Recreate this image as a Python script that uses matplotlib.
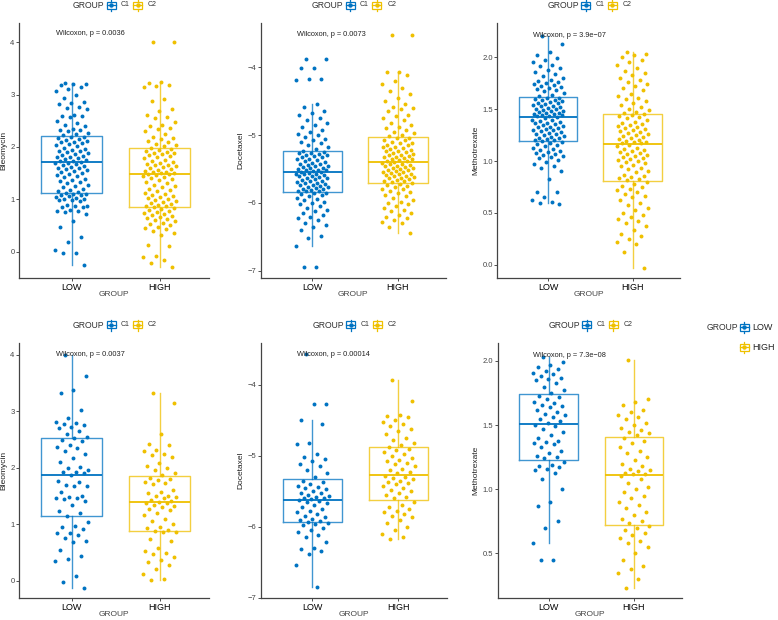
import numpy as np
import matplotlib
matplotlib.use("Agg")
import matplotlib.pyplot as plt
from matplotlib.lines import Line2D
from matplotlib.patches import Rectangle

plt.rcParams['font.family'] = ['Liberation Sans', 'DejaVu Sans']

W, H = 778, 620

groups = ["LOW", "HIGH"]
drugs = ["Bleomycin", "Docetaxel", "Methotrexate", "Bleomycin", "Docetaxel", "Methotrexate"]
pvals = ["0.0036", "0.0073", "3.9e\u221207", "0.0037", "0.00014", "7.3e\u221208"]

# box statistics: (q1, median, q3, lower whisker, upper whisker)
low_box = [
    (1.12, 1.71, 2.21, -0.25, 3.22),
    (-5.84, -5.55, -5.24, -6.63, -4.54),
    (1.19, 1.42, 1.62, 0.60, 2.20),
    (1.14, 1.87, 2.52, -0.13, 4.00),
    (-5.94, -5.62, -5.33, -6.85, -4.50),
    (1.23, 1.51, 1.74, 0.58, 2.03),
]
high_box = [
    (0.85, 1.48, 1.98, -0.29, 3.25),
    (-5.70, -5.39, -5.03, -6.44, -4.07),
    (0.81, 1.16, 1.45, -0.03, 2.05),
    (0.88, 1.39, 1.86, 0.02, 3.32),
    (-5.63, -5.27, -4.87, -6.18, -3.93),
    (0.72, 1.11, 1.41, 0.23, 2.01),
]

# individual samples (estimated from the jittered points)
p1_low = [3.22, 3.21, 3.20, 3.19, 3.14, 3.10, 3.07, 3.00, 2.94, 2.86, 2.85, 2.82, 2.77, 2.74, 2.72,
          2.62, 2.60, 2.60, 2.58, 2.49, 2.46, 2.42, 2.40, 2.35, 2.33, 2.32, 2.30, 2.27, 2.25, 2.23,
          2.20, 2.19, 2.18, 2.16, 2.14, 2.12, 2.10, 2.09, 2.07, 2.05, 2.03, 2.01, 1.99, 1.97, 1.95,
          1.93, 1.92, 1.90, 1.88, 1.86, 1.85, 1.83, 1.81, 1.80, 1.78, 1.77, 1.75, 1.74, 1.73, 1.72,
          1.70, 1.69, 1.67, 1.66, 1.64, 1.62, 1.60, 1.59, 1.57, 1.56, 1.55, 1.53, 1.50, 1.48, 1.47,
          1.45, 1.42, 1.39, 1.37, 1.35, 1.33, 1.31, 1.28, 1.26, 1.23, 1.20, 1.17, 1.15, 1.14, 1.13,
          1.11, 1.10, 1.09, 1.08, 1.07, 1.05, 1.03, 1.01, 1.00, 0.99, 0.98, 0.96, 0.90, 0.88, 0.87,
          0.86, 0.85, 0.80, 0.78, 0.77, 0.76, 0.72, 0.58, 0.47, 0.28, 0.18, 0.03, -0.02, -0.03, -0.25]
p1_high = [4.00, 4.00, 3.25, 3.22, 3.19, 3.17, 3.14, 2.92, 2.88, 2.72, 2.68, 2.62, 2.58, 2.55, 2.48,
           2.42, 2.40, 2.37, 2.35, 2.30, 2.25, 2.20, 2.18, 2.15, 2.12, 2.10, 2.06, 2.03, 2.01, 1.99,
           1.97, 1.95, 1.93, 1.91, 1.89, 1.88, 1.86, 1.84, 1.82, 1.80, 1.78, 1.76, 1.74, 1.72, 1.70,
           1.68, 1.66, 1.65, 1.63, 1.61, 1.60, 1.58, 1.56, 1.55, 1.53, 1.52, 1.51, 1.50, 1.49, 1.48,
           1.47, 1.45, 1.43, 1.41, 1.38, 1.36, 1.33, 1.31, 1.28, 1.26, 1.23, 1.20, 1.18, 1.15, 1.13,
           1.11, 1.09, 1.07, 1.05, 1.03, 1.01, 0.99, 0.97, 0.95, 0.93, 0.91, 0.90, 0.88, 0.87, 0.86,
           0.84, 0.82, 0.80, 0.78, 0.76, 0.74, 0.72, 0.70, 0.68, 0.66, 0.64, 0.62, 0.60, 0.58, 0.55,
           0.52, 0.50, 0.48, 0.46, 0.44, 0.40, 0.36, 0.32, 0.12, 0.10, -0.08, -0.10, -0.16, -0.22, -0.29]
p2_low = [-3.88, -3.88, -4.01, -4.01, -4.18, -4.18, -4.19, -4.54, -4.58, -4.65, -4.68, -4.70, -4.75, -4.78, -4.82,
          -4.85, -4.88, -4.92, -4.95, -4.98, -5.00, -5.03, -5.06, -5.08, -5.10, -5.12, -5.15, -5.18, -5.20, -5.23,
          -5.25, -5.26, -5.27, -5.28, -5.29, -5.30, -5.31, -5.32, -5.33, -5.35, -5.36, -5.37, -5.38, -5.40, -5.41,
          -5.42, -5.43, -5.44, -5.45, -5.46, -5.47, -5.48, -5.49, -5.50, -5.51, -5.52, -5.52, -5.53, -5.54, -5.54,
          -5.56, -5.57, -5.57, -5.58, -5.59, -5.60, -5.61, -5.62, -5.63, -5.64, -5.65, -5.66, -5.67, -5.68, -5.69,
          -5.70, -5.71, -5.72, -5.73, -5.74, -5.75, -5.76, -5.77, -5.78, -5.79, -5.80, -5.81, -5.82, -5.83, -5.83,
          -5.85, -5.86, -5.87, -5.88, -5.90, -5.92, -5.94, -5.96, -5.98, -6.00, -6.02, -6.05, -6.08, -6.10, -6.12,
          -6.15, -6.18, -6.20, -6.22, -6.25, -6.30, -6.33, -6.36, -6.40, -6.48, -6.51, -6.63, -6.95, -6.95]
p2_high = [-3.52, -3.52, -4.07, -4.07, -4.12, -4.20, -4.25, -4.30, -4.35, -4.40, -4.45, -4.50, -4.55, -4.58, -4.60,
           -4.62, -4.65, -4.70, -4.72, -4.75, -4.78, -4.82, -4.85, -4.88, -4.90, -4.92, -4.95, -4.97, -5.00, -5.02,
           -5.04, -5.05, -5.07, -5.08, -5.10, -5.11, -5.12, -5.14, -5.15, -5.17, -5.18, -5.19, -5.20, -5.22, -5.23,
           -5.24, -5.25, -5.27, -5.28, -5.29, -5.30, -5.31, -5.32, -5.33, -5.34, -5.35, -5.36, -5.37, -5.38, -5.38,
           -5.40, -5.41, -5.42, -5.43, -5.44, -5.45, -5.46, -5.47, -5.48, -5.49, -5.50, -5.51, -5.52, -5.53, -5.54,
           -5.55, -5.56, -5.57, -5.58, -5.59, -5.60, -5.61, -5.62, -5.63, -5.64, -5.65, -5.66, -5.67, -5.68, -5.69,
           -5.71, -5.72, -5.73, -5.75, -5.77, -5.79, -5.80, -5.82, -5.84, -5.86, -5.88, -5.90, -5.92, -5.95, -5.98,
           -6.00, -6.02, -6.05, -6.08, -6.10, -6.12, -6.15, -6.18, -6.20, -6.22, -6.25, -6.28, -6.30, -6.35, -6.44]
p3_low = [2.20, 2.13, 2.05, 2.02, 1.99, 1.97, 1.95, 1.93, 1.92, 1.90, 1.88, 1.86, 1.84, 1.82, 1.80,
          1.78, 1.77, 1.76, 1.75, 1.74, 1.73, 1.72, 1.71, 1.70, 1.69, 1.68, 1.67, 1.66, 1.64, 1.63,
          1.61, 1.61, 1.60, 1.59, 1.59, 1.58, 1.57, 1.56, 1.56, 1.55, 1.54, 1.53, 1.53, 1.52, 1.51,
          1.50, 1.50, 1.49, 1.48, 1.48, 1.47, 1.46, 1.46, 1.45, 1.45, 1.44, 1.44, 1.43, 1.43, 1.42,
          1.41, 1.40, 1.40, 1.39, 1.38, 1.37, 1.37, 1.36, 1.35, 1.34, 1.33, 1.33, 1.32, 1.31, 1.30,
          1.30, 1.29, 1.28, 1.27, 1.26, 1.26, 1.25, 1.24, 1.23, 1.22, 1.22, 1.21, 1.20, 1.20, 1.19,
          1.18, 1.17, 1.16, 1.15, 1.14, 1.13, 1.12, 1.11, 1.10, 1.09, 1.08, 1.07, 1.06, 1.05, 1.04,
          1.03, 1.01, 0.99, 0.97, 0.95, 0.93, 0.90, 0.83, 0.70, 0.70, 0.65, 0.62, 0.61, 0.60, 0.59]
p3_high = [2.05, 2.03, 2.02, 2.00, 1.97, 1.95, 1.93, 1.90, 1.87, 1.85, 1.83, 1.80, 1.78, 1.76, 1.74,
           1.72, 1.70, 1.68, 1.65, 1.63, 1.61, 1.60, 1.58, 1.56, 1.54, 1.52, 1.50, 1.49, 1.47, 1.46,
           1.45, 1.44, 1.43, 1.42, 1.41, 1.40, 1.38, 1.37, 1.36, 1.35, 1.34, 1.33, 1.32, 1.31, 1.30,
           1.29, 1.28, 1.27, 1.26, 1.25, 1.24, 1.23, 1.22, 1.21, 1.20, 1.19, 1.18, 1.18, 1.17, 1.17,
           1.15, 1.14, 1.13, 1.12, 1.11, 1.10, 1.09, 1.08, 1.07, 1.06, 1.05, 1.04, 1.03, 1.02, 1.01,
           1.00, 0.99, 0.98, 0.96, 0.95, 0.93, 0.92, 0.90, 0.89, 0.87, 0.86, 0.85, 0.84, 0.83, 0.82,
           0.80, 0.78, 0.76, 0.75, 0.73, 0.72, 0.70, 0.68, 0.66, 0.65, 0.62, 0.60, 0.58, 0.55, 0.53,
           0.50, 0.48, 0.46, 0.44, 0.42, 0.40, 0.37, 0.34, 0.30, 0.28, 0.25, 0.22, 0.20, 0.12, -0.03]
p4_low = [4.00, 3.62, 3.38, 3.33, 3.02, 2.88, 2.82, 2.80, 2.78, 2.75, 2.73, 2.70, 2.65, 2.60, 2.55, 2.53,
          2.50, 2.47, 2.40, 2.37, 2.35, 2.30, 2.25, 2.17, 2.10, 2.02, 2.00, 1.96, 1.93, 1.92, 1.90, 1.88,
          1.77, 1.75, 1.70, 1.68, 1.67, 1.57, 1.50, 1.48, 1.47, 1.46, 1.45, 1.41, 1.35, 1.24, 1.20, 1.15,
          1.04, 0.97, 0.96, 0.92, 0.85, 0.84, 0.81, 0.75, 0.70, 0.68, 0.54, 0.44, 0.38, 0.35, 0.08, -0.02, -0.13]
p4_high = [3.32, 3.15, 2.60, 2.43, 2.41, 2.32, 2.30, 2.25, 2.22, 2.19, 2.08, 2.04, 2.00, 1.97, 1.90, 1.88,
           1.82, 1.80, 1.78, 1.75, 1.73, 1.72, 1.60, 1.57, 1.55, 1.51, 1.50, 1.49, 1.46, 1.43, 1.41, 1.40,
           1.38, 1.37, 1.35, 1.33, 1.30, 1.27, 1.25, 1.20, 1.17, 1.10, 1.05, 1.00, 0.95, 0.93, 0.90, 0.89,
           0.87, 0.86, 0.74, 0.70, 0.58, 0.52, 0.50, 0.47, 0.42, 0.36, 0.34, 0.28, 0.20, 0.12, 0.04, 0.02]
p5_low = [-3.56, -4.27, -4.27, -4.50, -4.55, -4.82, -4.83, -4.98, -5.02, -5.05, -5.08, -5.12, -5.15, -5.20, -5.25, -5.30,
          -5.35, -5.37, -5.40, -5.42, -5.44, -5.45, -5.47, -5.50, -5.52, -5.53, -5.55, -5.57, -5.58, -5.59, -5.60, -5.61,
          -5.63, -5.64, -5.65, -5.67, -5.70, -5.72, -5.75, -5.78, -5.80, -5.82, -5.85, -5.87, -5.89, -5.90, -5.92, -5.93,
          -5.95, -5.96, -5.98, -6.02, -6.05, -6.08, -6.12, -6.15, -6.22, -6.30, -6.32, -6.35, -6.38, -6.54, -6.85]
p5_high = [-3.93, -4.23, -4.42, -4.44, -4.46, -4.50, -4.53, -4.55, -4.58, -4.62, -4.65, -4.70, -4.75, -4.78, -4.82, -4.85,
           -4.88, -4.90, -4.92, -4.95, -4.98, -5.00, -5.03, -5.06, -5.08, -5.10, -5.12, -5.15, -5.18, -5.20, -5.23, -5.25,
           -5.28, -5.30, -5.32, -5.33, -5.35, -5.37, -5.38, -5.40, -5.43, -5.45, -5.48, -5.50, -5.53, -5.55, -5.58, -5.60,
           -5.65, -5.70, -5.72, -5.75, -5.78, -5.80, -5.82, -5.85, -5.87, -5.90, -5.95, -6.00, -6.05, -6.10, -6.15, -6.18]
p6_low = [2.03, 1.99, 1.97, 1.95, 1.94, 1.92, 1.91, 1.90, 1.88, 1.87, 1.86, 1.85, 1.83, 1.80, 1.77, 1.75,
          1.73, 1.72, 1.70, 1.68, 1.67, 1.66, 1.65, 1.64, 1.62, 1.60, 1.59, 1.58, 1.56, 1.55, 1.53, 1.52,
          1.50, 1.49, 1.47, 1.45, 1.42, 1.40, 1.38, 1.37, 1.36, 1.35, 1.33, 1.30, 1.28, 1.26, 1.25, 1.24,
          1.21, 1.19, 1.18, 1.17, 1.16, 1.15, 1.13, 1.08, 1.00, 0.90, 0.87, 0.75, 0.70, 0.58, 0.45, 0.45]
p6_high = [2.01, 1.70, 1.68, 1.66, 1.62, 1.60, 1.58, 1.56, 1.55, 1.52, 1.50, 1.48, 1.46, 1.45, 1.44, 1.42,
           1.40, 1.38, 1.36, 1.33, 1.30, 1.28, 1.25, 1.23, 1.20, 1.18, 1.16, 1.15, 1.14, 1.13, 1.12, 1.12,
           1.10, 1.08, 1.05, 1.02, 1.00, 0.98, 0.95, 0.93, 0.90, 0.88, 0.85, 0.82, 0.80, 0.77, 0.75, 0.74,
           0.71, 0.70, 0.68, 0.66, 0.64, 0.62, 0.60, 0.58, 0.55, 0.50, 0.45, 0.40, 0.38, 0.35, 0.30, 0.23]

low_pts = [p1_low, p2_low, p3_low, p4_low, p5_low, p6_low]
high_pts = [p1_high, p2_high, p3_high, p4_high, p5_high, p6_high]

# layout (pixel boxes of each panel: left, top, right, bottom)
panels_px = [(19, 23, 209, 278.3), (260.7, 23, 446, 278.3), (497.3, 23, 680, 278.3),
             (19, 343, 209, 598.3), (260.7, 343, 446.7, 598.3), (497.7, 343, 681.7, 598.3)]
ylims = [(-0.51, 4.37), (-7.11, -3.35), (-0.13, 2.33), (-0.31, 4.21), (-7.01, -3.41), (0.15, 2.14)]
yticks = [[0, 1, 2, 3, 4], [-7, -6, -5, -4], [0, 0.5, 1, 1.5, 2],
          [0, 1, 2, 3, 4], [-7, -6, -5, -4], [0.5, 1, 1.5, 2]]
label_y = [4.17, -3.52, 2.21, 4.0, -3.57, 2.04]

BLUE = "#0073C2"
YELLOW = "#EFC000"
colors = [BLUE, YELLOW]


def px(x, y):
    return x / W, 1 - y / H


def draw_key(fig, cx, cy, color):
    w, h = 9, 7
    x0, y0 = px(cx - w / 2, cy + h / 2)
    fig.add_artist(Rectangle((x0, y0), w / W, h / H, fill=False, edgecolor=color,
                             lw=0.9, transform=fig.transFigure))
    fig.add_artist(Line2D([cx / W, cx / W], [1 - (cy + h / 2 + 2) / H, 1 - (cy + h / 2) / H],
                          color=color, lw=0.9, transform=fig.transFigure))
    fig.add_artist(Line2D([cx / W, cx / W], [1 - (cy - h / 2) / H, 1 - (cy - h / 2 - 2) / H],
                          color=color, lw=0.9, transform=fig.transFigure))
    fig.add_artist(Line2D([(cx - w / 2) / W, (cx + w / 2) / W], [1 - cy / H, 1 - cy / H],
                          color=color, lw=0.9, transform=fig.transFigure))
    fig.add_artist(Line2D([cx / W], [1 - cy / H], marker='o', markersize=2.2, color=color,
                          lw=0, transform=fig.transFigure))


fig = plt.figure(figsize=(W / 100, H / 100), dpi=100)

for i in range(6):
    l, t, r, b = panels_px[i]
    ax = fig.add_axes([l / W, 1 - b / H, (r - l) / W, (b - t) / H])

    for j, box in enumerate([low_box[i], high_box[i]]):
        q1, med, q3, lo, hi = box
        stats = [dict(med=med, q1=q1, q3=q3, whislo=lo, whishi=hi, fliers=[])]
        ax.bxp(stats, positions=[j + 1], widths=0.69, showcaps=False, showfliers=False,
               boxprops=dict(color=colors[j], lw=1.0, alpha=0.75),
               whiskerprops=dict(color=colors[j], lw=1.0, alpha=0.75),
               medianprops=dict(color=colors[j], lw=1.3))

    for j, vals in enumerate([low_pts[i], high_pts[i]]):
        vals = np.array(vals)
        n = len(vals)
        offs = ((np.arange(n) * 0.618034 + 0.31) % 1 - 0.5) * 0.38
        ax.scatter(j + 1 + offs, vals, s=8, color=colors[j], linewidths=0, zorder=3)

    ax.text(0.82, label_y[i], "Wilcoxon, p = " + pvals[i], fontsize=5.3, ha='left', va='center',
            color='#222222', zorder=4)

    ax.set_xlim(0.4, 2.56)
    ax.set_ylim(*ylims[i])
    ax.set_xticks([1, 2])
    ax.set_xticklabels(groups, fontsize=6.5, color='black')
    ax.set_yticks(yticks[i])
    if i in (2, 5):
        ax.set_yticklabels([f"{v:.1f}" for v in yticks[i]], fontsize=5.5, color='#444444')
    else:
        ax.set_yticklabels([f"{v:d}".replace("-", "\u2212") for v in yticks[i]], fontsize=5.5, color='#444444')
    ax.tick_params(axis='both', length=2, width=0.6, color='#333333', pad=1.2)
    ax.set_xlabel("GROUP", fontsize=6, color='#444444', va='center')
    ax.xaxis.set_label_coords(0.5, -15.7 / (b - t))
    ax.set_ylabel(drugs[i], fontsize=6, color='#222222', labelpad=2)
    for s in ['top', 'right']:
        ax.spines[s].set_visible(False)
    for s in ['left', 'bottom']:
        ax.spines[s].set_color('#444444')
        ax.spines[s].set_linewidth(0.9)

    # per-panel legend on top
    cx = (l + r) / 2
    ly = 5 if i < 3 else 325
    fig.text(*px(cx - 41.3, ly), "GROUP", fontsize=6.2, ha='left', va='center', color='#333333')
    draw_key(fig, cx - 3, ly, BLUE)
    fig.text(*px(cx + 6.7, ly), "C1", fontsize=5, ha='left', va='center', color='#333333')
    draw_key(fig, cx + 23.5, ly, YELLOW)
    fig.text(*px(cx + 34, ly), "C2", fontsize=5, ha='left', va='center', color='#333333')

# shared legend on the right
fig.text(*px(707, 327), "GROUP", fontsize=6.2, ha='left', va='center', color='#333333')
draw_key(fig, 744, 327, BLUE)
fig.text(*px(752, 327), "LOW", fontsize=6.5, ha='left', va='center', color='#222222')
draw_key(fig, 744, 347, YELLOW)
fig.text(*px(752, 347), "HIGH", fontsize=6.5, ha='left', va='center', color='#222222')

fig.savefig("out.png", dpi=100)
